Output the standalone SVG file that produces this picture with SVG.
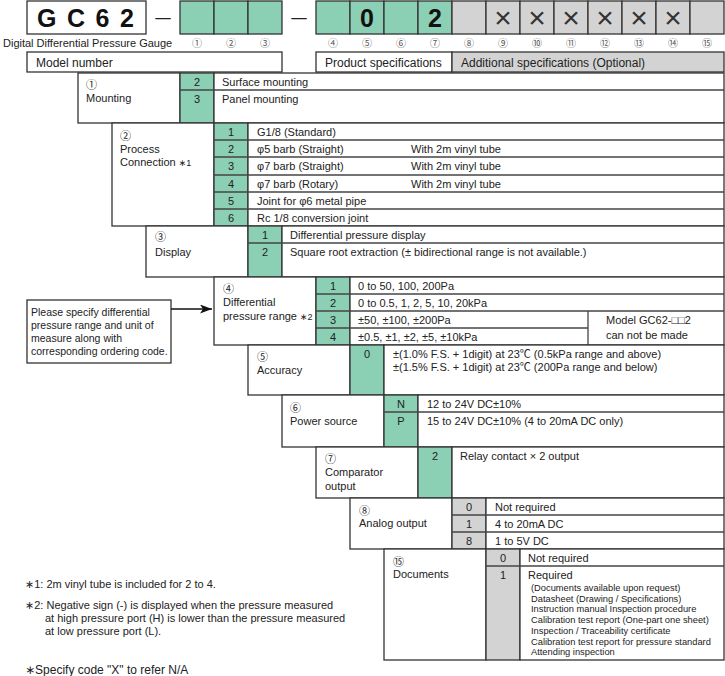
<svg xmlns="http://www.w3.org/2000/svg" width="725" height="676" viewBox="0 0 725 676">
<defs>
<style>
text{font-family:"Liberation Sans","Noto Sans CJK JP","DejaVu Sans",sans-serif;font-size:11px;fill:#222}
.w{fill:#fff;stroke:#333;stroke-width:1.3}
.gn{fill:#8bcfb5;stroke:#333;stroke-width:1.3}
.gy{fill:#d3d3d3;stroke:#333;stroke-width:1.3}
.ln{stroke:#444;stroke-width:1.3}
.c{text-anchor:middle}
.big{font-size:25px;font-weight:bold;fill:#111}
.num{font-size:10px;fill:#555}
.x{font-size:30px;fill:#333;text-anchor:middle}
.sm{font-size:9.3px}
.h{font-size:12px}
.nt{font-size:10.5px}
.dash{font-family:"DejaVu Sans",sans-serif;font-size:17px;fill:#222;text-anchor:middle}
</style>
<marker id="ah" markerUnits="userSpaceOnUse" markerWidth="13" markerHeight="10" refX="12" refY="4.5" orient="auto">
<path d="M0,0 L12,4.5 L0,9 L3,4.5 z" fill="#111"/>
</marker>
</defs>
<rect width="725" height="676" fill="#fff"/>

<g id="header">
<rect class="w" x="27" y="1" width="119" height="33"/>
<text class="big" x="37" y="27" letter-spacing="1.8">G C 6 2</text>
<text class="dash" x="163" y="23">—</text>
<rect class="gn" x="180" y="1" width="34" height="33"/>
<rect class="gn" x="214" y="1" width="34" height="33"/>
<rect class="gn" x="248" y="1" width="34" height="33"/>
<text class="dash" x="299" y="23">—</text>
<rect class="gn" x="316" y="1" width="34" height="33"/>
<rect class="gn" x="350" y="1" width="34" height="33"/>
<rect class="gn" x="384" y="1" width="34" height="33"/>
<rect class="gn" x="418" y="1" width="34" height="33"/>
<rect class="gy" x="452" y="1" width="34" height="33"/>
<rect class="gy" x="486" y="1" width="34" height="33"/>
<rect class="gy" x="520" y="1" width="34" height="33"/>
<rect class="gy" x="554" y="1" width="34" height="33"/>
<rect class="gy" x="588" y="1" width="34" height="33"/>
<rect class="gy" x="622" y="1" width="34" height="33"/>
<rect class="gy" x="656" y="1" width="34" height="33"/>
<rect class="gy" x="690" y="1" width="34" height="33"/>
<text class="big c" x="367" y="27">0</text>
<text class="big c" x="435" y="27">2</text>
<text class="x" x="503" y="28">×</text>
<text class="x" x="537" y="28">×</text>
<text class="x" x="571" y="28">×</text>
<text class="x" x="605" y="28">×</text>
<text class="x" x="639" y="28">×</text>
<text class="x" x="673" y="28">×</text>
<text x="3" y="47" font-size="9.8">Digital Differential Pressure Gauge</text>
<text class="num c" x="197" y="47">①</text>
<text class="num c" x="231" y="47">②</text>
<text class="num c" x="265" y="47">③</text>
<text class="num c" x="333" y="47">④</text>
<text class="num c" x="367" y="47">⑤</text>
<text class="num c" x="401" y="47">⑥</text>
<text class="num c" x="435" y="47">⑦</text>
<text class="num c" x="469" y="47">⑧</text>
<text class="num c" x="503" y="47">⑨</text>
<text class="num c" x="537" y="47">⑩</text>
<text class="num c" x="571" y="47">⑪</text>
<text class="num c" x="605" y="47">⑫</text>
<text class="num c" x="639" y="47">⑬</text>
<text class="num c" x="673" y="47">⑭</text>
<text class="num c" x="707" y="47">⑮</text>
<rect class="w" x="27" y="52" width="255" height="20"/>
<text class="h" x="36" y="67">Model number</text>
<rect class="w" x="316" y="52" width="136" height="20"/>
<text class="h" x="325" y="67">Product specifications</text>
<rect class="gy" x="452" y="52" width="272" height="20"/>
<text class="h" x="461" y="67">Additional specifications (Optional)</text>
</g>

<g id="mounting">
<rect class="w" x="78" y="73" width="102" height="50"/>
<rect class="gn" x="180" y="73" width="34" height="50"/>
<rect class="w" x="214" y="73" width="510" height="50"/>
<line class="ln" x1="180" y1="90" x2="724" y2="90"/>
<text x="86" y="89">①</text>
<text x="86" y="102">Mounting</text>
<text class="c" x="197" y="86">2</text>
<text class="c" x="197" y="103">3</text>
<text x="222" y="86">Surface mounting</text>
<text x="222" y="103">Panel mounting</text>
</g>

<g id="process-connection">
<rect class="w" x="112" y="123" width="102" height="103"/>
<rect class="gn" x="214" y="123" width="34" height="103"/>
<rect class="w" x="248" y="123" width="476" height="103"/>
<line class="ln" x1="214" y1="140" x2="724" y2="140"/>
<line class="ln" x1="214" y1="157" x2="724" y2="157"/>
<line class="ln" x1="214" y1="175" x2="724" y2="175"/>
<line class="ln" x1="214" y1="192" x2="724" y2="192"/>
<line class="ln" x1="214" y1="209" x2="724" y2="209"/>
<text x="120" y="140">②</text>
<text x="120" y="153">Process</text>
<text x="120" y="166">Connection <tspan font-size="9">∗1</tspan></text>
<text class="c" x="231" y="136">1</text>
<text class="c" x="231" y="153">2</text>
<text class="c" x="231" y="170">3</text>
<text class="c" x="231" y="188">4</text>
<text class="c" x="231" y="205">5</text>
<text class="c" x="231" y="222">6</text>
<text x="257" y="136">G1/8 (Standard)</text>
<text x="257" y="153">φ5 barb (Straight)</text>
<text x="257" y="170">φ7 barb (Straight)</text>
<text x="257" y="188">φ7 barb (Rotary)</text>
<text x="257" y="205">Joint for φ6 metal pipe</text>
<text x="257" y="222">Rc 1/8 conversion joint</text>
<text x="411" y="153">With 2m vinyl tube</text>
<text x="411" y="170">With 2m vinyl tube</text>
<text x="411" y="188">With 2m vinyl tube</text>
</g>

<g id="display">
<rect class="w" x="146" y="226" width="102" height="51"/>
<rect class="gn" x="248" y="226" width="34" height="51"/>
<rect class="w" x="282" y="226" width="442" height="51"/>
<line class="ln" x1="248" y1="243" x2="724" y2="243"/>
<text x="155" y="241">③</text>
<text x="155" y="256">Display</text>
<text class="c" x="265" y="239">1</text>
<text class="c" x="265" y="256">2</text>
<text x="290" y="239">Differential pressure display</text>
<text x="290" y="256">Square root extraction (± bidirectional range is not available.)</text>
</g>

<g id="pressure-range">
<rect class="w" x="214" y="277" width="102" height="68"/>
<rect class="gn" x="316" y="277" width="34" height="68"/>
<rect class="w" x="350" y="277" width="374" height="68"/>
<line class="ln" x1="316" y1="294" x2="724" y2="294"/>
<line class="ln" x1="316" y1="311" x2="724" y2="311"/>
<line class="ln" x1="316" y1="328" x2="588" y2="328"/>
<line class="ln" x1="588" y1="311" x2="588" y2="345"/>
<text x="223" y="293">④</text>
<text x="223" y="306">Differential</text>
<text x="223" y="320">pressure range <tspan font-size="9">∗2</tspan></text>
<text class="c" x="333" y="290">1</text>
<text class="c" x="333" y="307">2</text>
<text class="c" x="333" y="324">3</text>
<text class="c" x="333" y="341">4</text>
<text x="358" y="290">0 to 50, 100, 200Pa</text>
<text x="358" y="307">0 to 0.5, 1, 2, 5, 10,  20kPa</text>
<text x="358" y="324">±50, ±100, ±200Pa</text>
<text x="358" y="341">±0.5, ±1, ±2, ±5, ±10kPa</text>
<text x="606" y="324">Model GC62-□□2</text>
<text x="606" y="339">can not be made</text>
</g>

<g id="note">
<rect class="w" x="27" y="300" width="144" height="63"/>
<text class="nt" x="31" y="316">Please specify differential</text>
<text class="nt" x="31" y="329">pressure range and unit of</text>
<text class="nt" x="31" y="342">measure along with</text>
<text class="nt" x="31" y="355">corresponding ordering code.</text>
</g>

<g id="accuracy">
<rect class="w" x="248" y="345" width="102" height="50"/>
<rect class="gn" x="350" y="345" width="34" height="50"/>
<rect class="w" x="384" y="345" width="340" height="50"/>
<text x="257" y="361">⑤</text>
<text x="257" y="374">Accuracy</text>
<text class="c" x="367" y="358">0</text>
<text x="393" y="358">±(1.0% F.S. + 1digit) at 23℃ (0.5kPa range and above)</text>
<text x="393" y="371">±(1.5% F.S. + 1digit) at 23℃ (200Pa range and below)</text>
</g>

<g id="power-source">
<rect class="w" x="282" y="395" width="102" height="52"/>
<rect class="gn" x="384" y="395" width="34" height="52"/>
<rect class="w" x="418" y="395" width="306" height="52"/>
<line class="ln" x1="384" y1="412" x2="724" y2="412"/>
<text x="290" y="412">⑥</text>
<text x="290" y="425">Power source</text>
<text class="c" x="401" y="408">N</text>
<text class="c" x="401" y="425">P</text>
<text x="427" y="408">12 to 24V DC±10%</text>
<text x="427" y="425">15 to 24V DC±10% (4 to 20mA DC only)</text>
</g>

<g id="comparator-output">
<rect class="w" x="316" y="447" width="102" height="51"/>
<rect class="gn" x="418" y="447" width="34" height="51"/>
<rect class="w" x="452" y="447" width="272" height="51"/>
<text x="325" y="463">⑦</text>
<text x="325" y="476">Comparator</text>
<text x="325" y="490">output</text>
<text class="c" x="435" y="460">2</text>
<text x="460" y="460">Relay contact × 2 output</text>
</g>

<g id="analog-output">
<rect class="w" x="350" y="498" width="102" height="51"/>
<rect class="gy" x="452" y="498" width="34" height="51"/>
<rect class="w" x="486" y="498" width="238" height="51"/>
<line class="ln" x1="452" y1="515" x2="724" y2="515"/>
<line class="ln" x1="452" y1="532" x2="724" y2="532"/>
<text x="359" y="515">⑧</text>
<text x="359" y="527">Analog output</text>
<text class="c" x="469" y="511">0</text>
<text class="c" x="469" y="528">1</text>
<text class="c" x="469" y="545">8</text>
<text x="495" y="511">Not required</text>
<text x="495" y="528">4 to 20mA DC</text>
<text x="495" y="545">1 to 5V DC</text>
</g>

<g id="documents">
<rect class="w" x="384" y="549" width="102" height="111"/>
<rect class="gy" x="486" y="549" width="34" height="111"/>
<rect class="w" x="520" y="549" width="204" height="111"/>
<line class="ln" x1="486" y1="566" x2="724" y2="566"/>
<text x="393" y="566">⑮</text>
<text x="393" y="578">Documents</text>
<text class="c" x="503" y="562">0</text>
<text class="c" x="503" y="579">1</text>
<text x="528" y="562">Not required</text>
<text x="528" y="579">Required</text>
<text class="sm" x="531" y="591">(Documents available upon request)</text>
<text class="sm" x="531" y="601.7">Datasheet (Drawing / Specifications)</text>
<text class="sm" x="531" y="612.4">Instruction manual Inspection procedure</text>
<text class="sm" x="531" y="623.1">Calibration test report (One-part one sheet)</text>
<text class="sm" x="531" y="633.8">Inspection / Traceability certificate</text>
<text class="sm" x="531" y="644.5">Calibration test report for pressure standard</text>
<text class="sm" x="531" y="655.2">Attending inspection</text>
</g>

<g id="connectors">
<line x1="171" y1="309" x2="212" y2="309" stroke="#111" stroke-width="1.3" marker-end="url(#ah)"/>
</g>

<g id="footnotes">
<text x="25" y="588">∗1: 2m vinyl tube is included for 2 to 4.</text>
<text x="25" y="609">∗2: Negative sign (-) is displayed when the pressure measured</text>
<text x="45" y="622">at high pressure  port (H) is lower than the pressure measured</text>
<text x="45" y="635">at low pressure port (L).</text>
<text class="h" x="25" y="674">∗Specify code "X" to refer N/A</text>
</g>
</svg>
